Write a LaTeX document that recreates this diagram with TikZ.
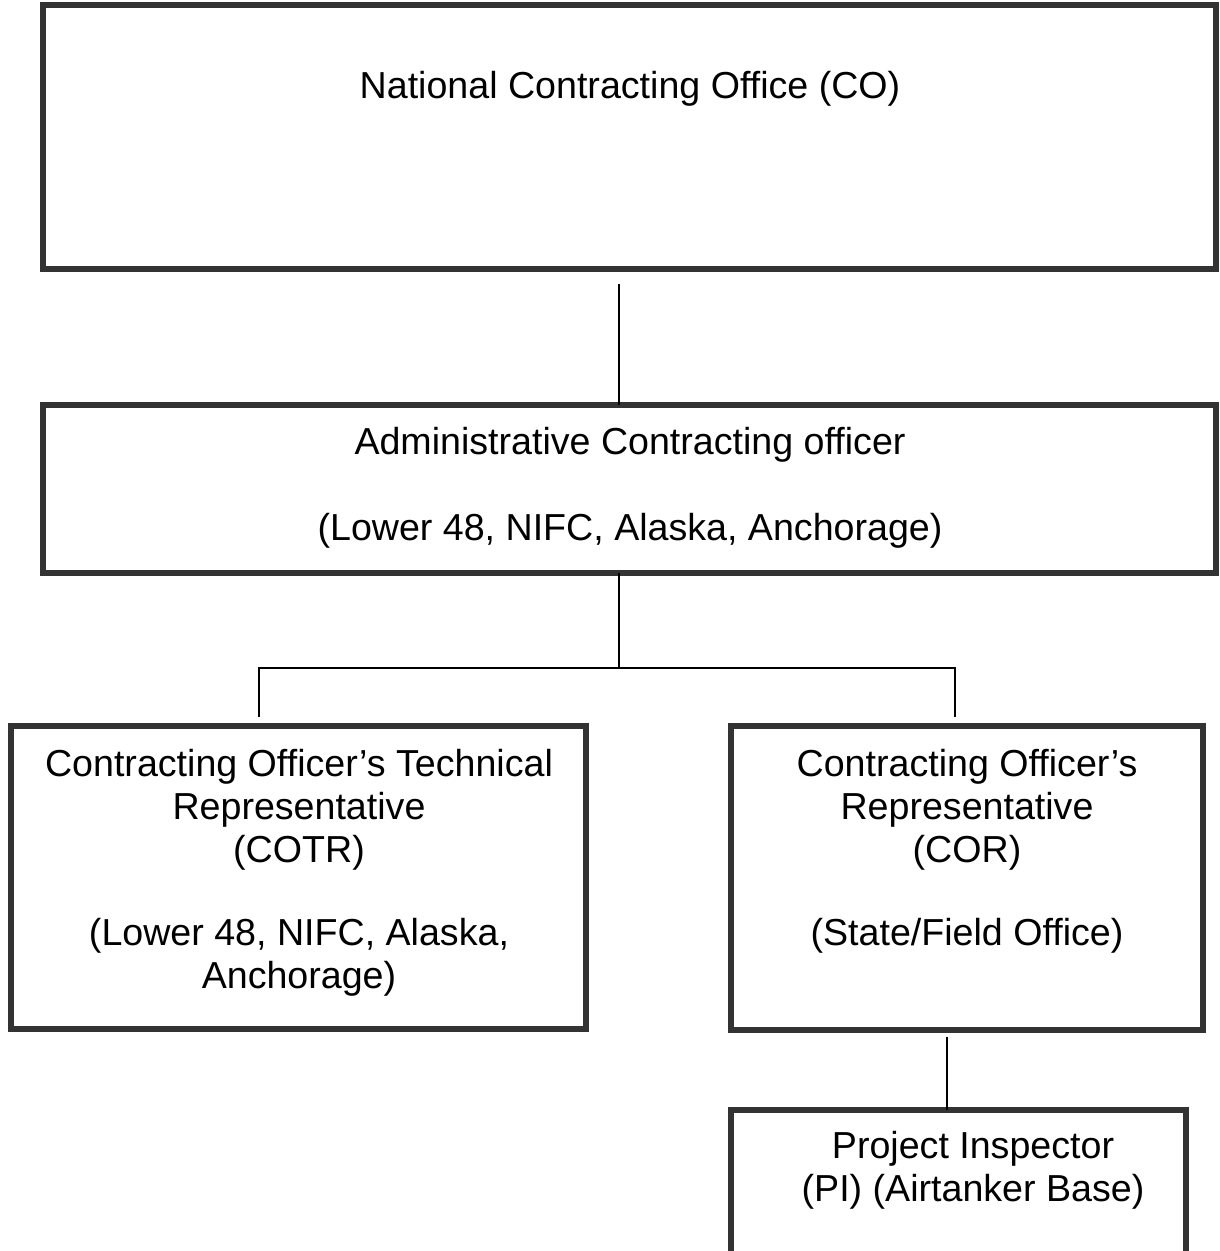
\documentclass[tikz,border=0pt]{standalone}
\usepackage{fontspec}
\setmainfont{Liberation Sans}
\usetikzlibrary{calc}
\definecolor{boxgray}{HTML}{333333}
\begin{document}
\begin{tikzpicture}[x=0.5pt,y=-0.5pt,
  orgbox/.style={draw=boxgray, line width=3pt, inner sep=0pt, outer sep=0pt, fill=white},
  label/.style={font=\fontsize{18.8}{21.5}\selectfont, align=center, inner sep=0pt},
  conn/.style={draw=black, line width=1pt}]
\clip (0,0) rectangle (1219,1251);
\fill[white] (0,0) rectangle (1219,1251);
% boxes
\node[orgbox, minimum width=586.5pt, minimum height=132pt] (nco) at (629.5,137) {};
\node[orgbox, minimum width=586.5pt, minimum height=84pt] (aco) at (629.5,489) {};
\node[orgbox, minimum width=287.75pt, minimum height=151.5pt] (cotr) at (298.25,877.5) {};
\node[orgbox, minimum width=236pt, minimum height=152pt] (cor) at (967,878) {};
\node[orgbox, minimum width=227.5pt, minimum height=95pt] (pi) at (958.5,1205) {};
% texts
\node[label] (tnco) at (630,88.5) {National Contracting Office (CO)};
\node[label] (taco) at (630,487.5) {Administrative Contracting officer\\[21.5pt](Lower 48, NIFC, Alaska, Anchorage)};
\node[label] (tcotr) at (299,873) {Contracting Officer’s Technical\\Representative\\(COTR)\\[20pt](Lower 48, NIFC, Alaska,\\Anchorage)};
\node[label] (tcor) at (967,851) {Contracting Officer’s\\Representative\\(COR)\\[20pt](State/Field Office)};
\node[label] (tpi) at (973,1170.5) {Project Inspector\\(PI) (Airtanker Base)};
% connectors
\coordinate (c1) at (619,284);
\draw[conn] (c1) -- (c1 |- aco.north);
\coordinate (j) at (619,668);
\coordinate (jl) at (259,668);
\coordinate (jr) at (955,668);
\coordinate (el) at (259,717);
\coordinate (er) at (955,717);
\draw[conn] (aco.south -| j) -- (j);
\draw[conn] (el) -- (jl) -- (jr) -- (er);
\coordinate (c3) at (947,1037);
\draw[conn] (c3) -- (c3 |- pi.north);
\end{tikzpicture}
\end{document}
